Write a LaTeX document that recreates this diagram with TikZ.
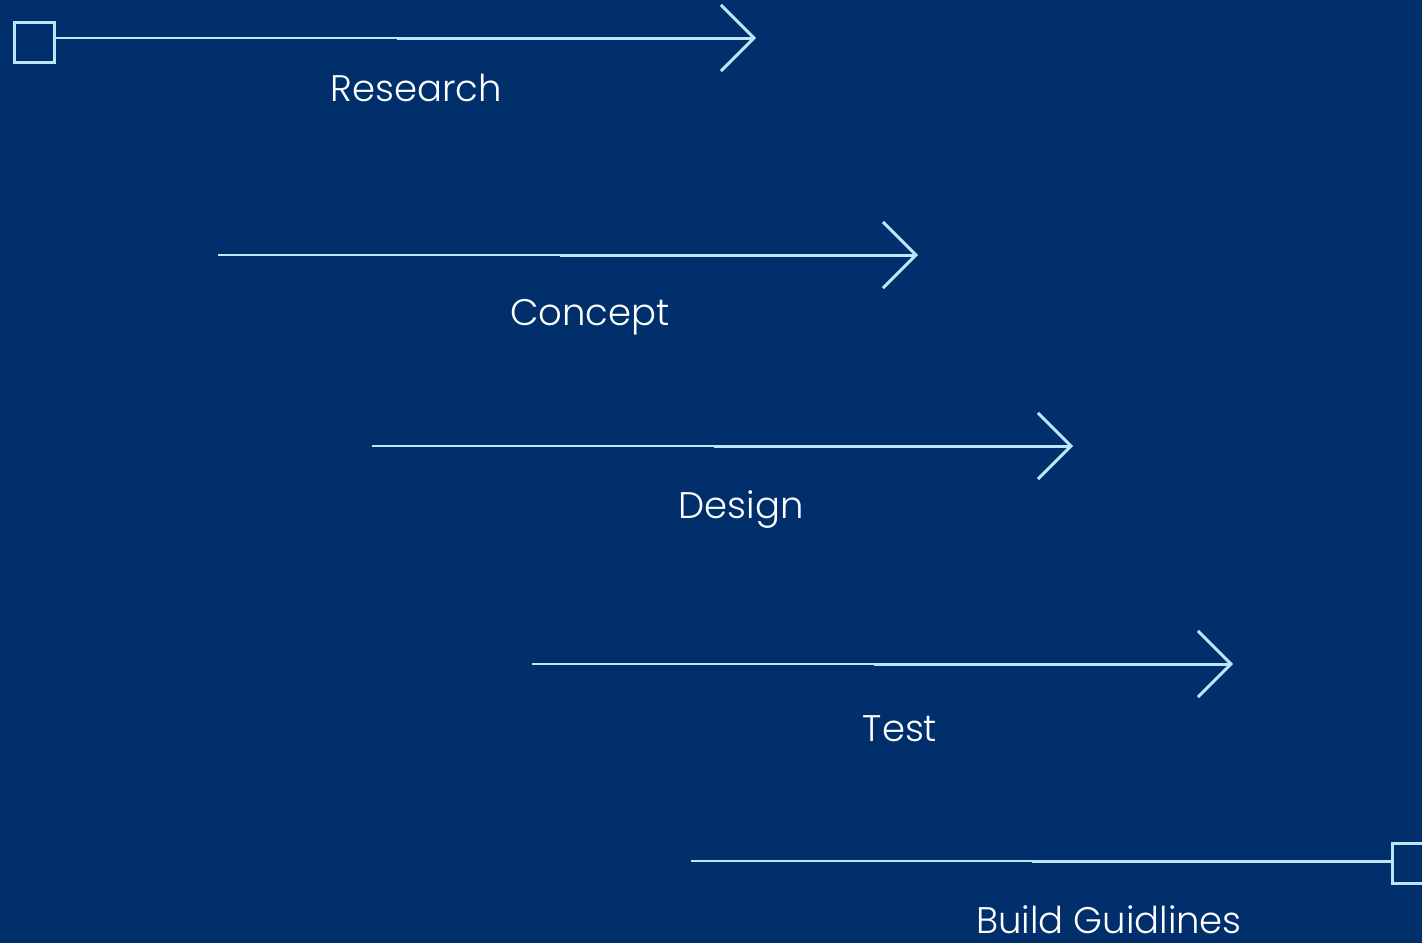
\documentclass[tikz,border=0pt]{standalone}
\usepackage{fontspec}
\setmainfont{Poppins}[UprightFont=* Light]
\usetikzlibrary{arrows.meta}
\definecolor{navy}{HTML}{002F6C}
\definecolor{sky}{HTML}{BDE5FA}
\tikzset{
  thinline/.style={draw=sky, line width=1.4pt},
  thickline/.style={draw=sky, line width=3pt},
  chevron/.style={thickline, -{Straight Barb[length=33pt,width=66pt,line width=3pt]}},
  endbox/.style={draw=sky, line width=3pt, minimum size=40pt, inner sep=0pt, anchor=center},
  label/.style={text=white, font=\fontsize{37pt}{40pt}\selectfont, anchor=base},
}
\begin{document}
\begin{tikzpicture}[x=1pt,y=-1pt]
  \useasboundingbox (0,0) rectangle (1422,943);
  \fill[navy] (0,0) rectangle (1422,943);
  \clip (0,0) rectangle (1422,943);

  % Research
  \node[endbox] (sq1) at (34.5,42) {};
  \coordinate (m1) at (397,38);
  \coordinate (e1) at (756,38);
  \draw[thinline] (sq1.east |- m1) -- (m1);
  \draw[chevron] (m1) -- (e1);
  \node[label] (t1) at (416,101) {Research};

  % Concept
  \coordinate (s2) at (218,255);
  \coordinate (m2) at (560,255);
  \coordinate (e2) at (918,255);
  \draw[thinline] (s2) -- (m2);
  \draw[chevron] (m2) -- (e2);
  \node[label] (t2) at (590,325) {Concept};

  % Design
  \coordinate (s3) at (372,446);
  \coordinate (m3) at (714,446);
  \coordinate (e3) at (1073,446);
  \draw[thinline] (s3) -- (m3);
  \draw[chevron] (m3) -- (e3);
  \node[label] (t3) at (741,518) {Design};

  % Test
  \coordinate (s4) at (532,664);
  \coordinate (m4) at (874,664);
  \coordinate (e4) at (1233,664);
  \draw[thinline] (s4) -- (m4);
  \draw[chevron] (m4) -- (e4);
  \node[label] (t4) at (900,741) {Test};

  % Build Guidlines
  \coordinate (s5) at (691,861);
  \coordinate (m5) at (1032,861);
  \node[endbox] (sq5) at (1412,863) {};
  \draw[thinline] (s5) -- (m5);
  \draw[thickline] (m5) -- (sq5.west |- m5);
  \node[label] (t5) at (1109,933) {Build Guidlines};
\end{tikzpicture}
\end{document}
